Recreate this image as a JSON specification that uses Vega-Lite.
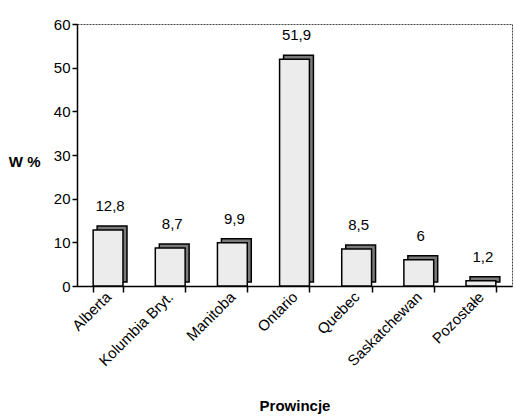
{
  "$schema": "https://vega.github.io/schema/vega-lite/v6.json",
  "autosize": {"type": "none"},
  "width": 435,
  "height": 262,
  "padding": {"left": 77, "top": 24, "right": 3, "bottom": 133},
  "background": "white",
  "config": {
    "font": "Liberation Sans",
    "view": {"stroke": "#444", "strokeDash": [2, 1], "strokeWidth": 1},
    "locale": {"number": {"decimal": ",", "thousands": " ", "grouping": [3], "currency": ["", ""]}}
  },
  "data": {
    "values": [
      {"prowincja": "Alberta", "w": 12.8},
      {"prowincja": "Kolumbia Bryt.", "w": 8.7},
      {"prowincja": "Manitoba", "w": 9.9},
      {"prowincja": "Ontario", "w": 51.9},
      {"prowincja": "Quebec", "w": 8.5},
      {"prowincja": "Saskatchewan", "w": 6},
      {"prowincja": "Pozostałe", "w": 1.2}
    ]
  },
  "encoding": {
    "x": {
      "field": "prowincja", "type": "nominal", "sort": null,
      "scale": {"paddingInner": 0.52, "paddingOuter": 0.26},
      "axis": {
        "title": "Prowincje", "titleFontSize": 15, "titleFontWeight": "bold", "titleColor": "black", "titlePadding": 30,
        "labelAngle": -45, "labelAlign": "right", "labelBaseline": "middle", "labelFontSize": 15, "labelColor": "black",
        "labelPadding": 2,
        "domainColor": "black", "domainWidth": 1.5, "tickColor": "black", "tickBand": "extent", "tickSize": 6, "tickWidth": 1.5
      }
    },
    "y": {
      "field": "w", "type": "quantitative",
      "scale": {"domain": [0, 60]},
      "axis": {
        "title": "W %", "titleAngle": 0, "titleFontSize": 15, "titleFontWeight": "bold", "titleColor": "black",
        "titleAlign": "right", "titleBaseline": "middle", "titleX": -37, "titleY": 137,
        "values": [0, 10, 20, 30, 40, 50, 60], "labelFontSize": 15, "labelColor": "black", "labelPadding": 2,
        "grid": false, "domainColor": "black", "domainWidth": 1.5, "tickColor": "black", "tickSize": 5, "tickWidth": 1.5
      }
    }
  },
  "layer": [
    {
      "mark": {"type": "bar", "fill": "#7a7a7a", "stroke": "black", "strokeWidth": 1.5, "xOffset": 4, "yOffset": -4},
      "encoding": {}
    },
    {
      "mark": {"type": "bar", "fill": "#ececec", "stroke": "black", "strokeWidth": 1.5},
      "encoding": {}
    },
    {
      "mark": {"type": "text", "dy": -16, "fontSize": 15, "color": "black", "baseline": "bottom", "dx": 2},
      "encoding": {"text": {"field": "w", "type": "quantitative", "format": ".1~f"}}
    }
  ]
}
